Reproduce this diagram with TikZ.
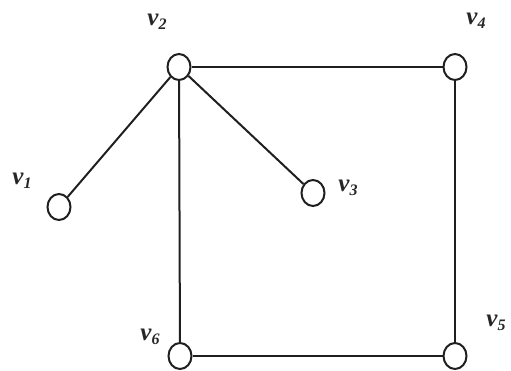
\documentclass[tikz,border=0pt]{standalone}
\usepackage{fontspec}
\setmainfont{Liberation Serif}
\usetikzlibrary{shapes.geometric}
\newcommand{\vlab}[1]{\textit{v}\raisebox{-0.35ex}{\fontsize{16}{16}\selectfont\textit{#1}}}
\begin{document}
\begin{tikzpicture}[x=1pt,y=1pt,
  vert/.style={ellipse,draw=black!88,line width=2pt,minimum width=23pt,minimum height=26pt,inner sep=0pt,fill=white},
  edge/.style={draw=black!88,line width=2pt},
  lab/.style={font=\fontsize{25}{25}\selectfont\bfseries,text=black!85,inner sep=0pt}]
\useasboundingbox (0,0) rectangle (511,370);
\node[vert] (v2) at (179,303) {};
\node[vert] (v4) at (455,303) {};
\node[vert] (v1) at (59,163) {};
\node[vert] (v3) at (313,177) {};
\node[vert] (v6) at (180,14) {};
\node[vert] (v5) at (455,14) {};
\draw[edge] (v2) -- (v4);
\draw[edge] (v2) -- (v1);
\draw[edge] (v2) -- (v3);
\draw[edge] (v2) -- (v6);
\draw[edge] (v4) -- (v5);
\draw[edge] (v6) -- (v5);
\node[lab] (l2) at (157,348) {\vlab{2}};
\node[lab] (l4) at (476,349) {\vlab{4}};
\node[lab] (l1) at (22,189) {\vlab{1}};
\node[lab] (l3) at (348,182) {\vlab{3}};
\node[lab] (l6) at (150,33) {\vlab{6}};
\node[lab] (l5) at (496,47) {\vlab{5}};
\end{tikzpicture}
\end{document}
